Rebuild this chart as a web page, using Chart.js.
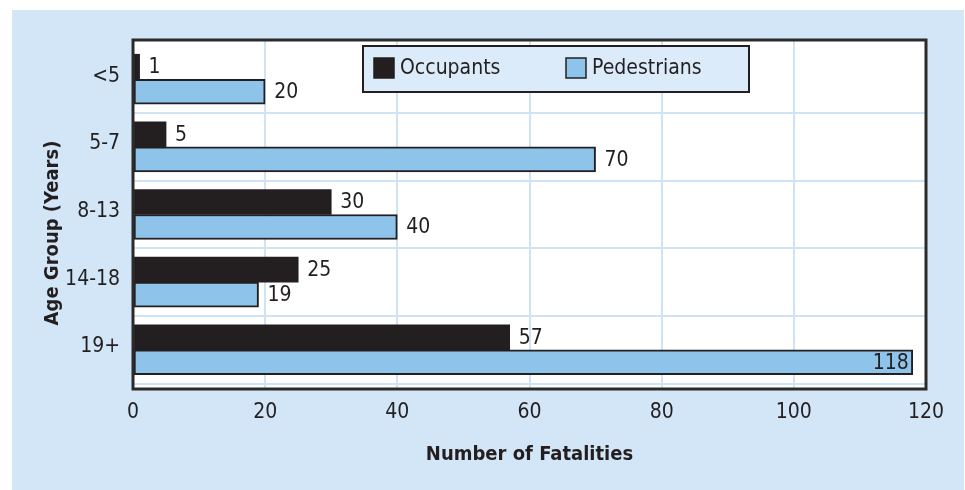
<!DOCTYPE html>
<html>
<head>
<meta charset="utf-8">
<script src="https://cdn.jsdelivr.net/npm/chart.js@4.4.0/dist/chart.umd.min.js"></script>
<style>
  html, body { margin: 0; padding: 0; background: #fff; }
  #wrap { width: 965px; height: 490px; }
</style>
</head>
<body>
<div id="wrap"><canvas id="grafico"></canvas></div>
<script>
// datos
const ageGroups = ["<5", "5-7", "8-13", "14-18", "19+"];
const occupants = [1, 5, 30, 25, 57];
const pedestrians = [20, 70, 40, 19, 118];
const xTicks = [0, 20, 40, 60, 80, 100, 120];

const FONT = "'DejaVu Sans Condensed', 'Liberation Sans Narrow', sans-serif";
const DARK = "#231f20";
const BLUE = "#8ec3ea";
const PANEL = "#d2e6f7";
const GRID = "#cfe3f5";

Chart.defaults.font.family = FONT;
Chart.defaults.color = DARK;

// fondo celeste + area blanca
const fondo = {
  id: "fondo",
  beforeDraw(chart) {
    const ctx = chart.ctx, a = chart.chartArea;
    ctx.save();
    ctx.fillStyle = "#fff";
    ctx.fillRect(0, 0, chart.width, chart.height);
    ctx.fillStyle = PANEL;
    ctx.fillRect(12, 10, chart.width - 13, chart.height - 10);
    ctx.fillStyle = "#fff";
    ctx.fillRect(a.left, a.top, a.right - a.left, a.bottom - a.top);
    ctx.restore();
  }
};

// borde del grafico y numeros en las barras
const etiquetas = {
  id: "etiquetas",
  afterDatasetsDraw(chart) {
    const ctx = chart.ctx, a = chart.chartArea;
    ctx.save();
    ctx.font = "21px " + FONT;
    ctx.fillStyle = DARK;
    ctx.textBaseline = "middle";
    chart.data.datasets.forEach((ds, d) => {
      chart.getDatasetMeta(d).data.forEach((bar, i) => {
        const txt = String(ds.data[i].x);
        const w = ctx.measureText(txt).width;
        if (bar.x + 9 + w > a.right) {
          ctx.textAlign = "right";
          ctx.fillText(txt, bar.x - 4, bar.y + 1);
        } else {
          ctx.textAlign = "left";
          ctx.fillText(txt, bar.x + 9, bar.y + 1);
        }
      });
    });
    ctx.strokeStyle = "#2b2b2b";
    ctx.lineWidth = 3;
    ctx.strokeRect(a.left, a.top, a.right - a.left, a.bottom - a.top);
    ctx.restore();
  }
};

// leyenda dentro del grafico y titulo del eje Y
const leyenda = {
  id: "leyenda",
  afterDraw(chart) {
    const ctx = chart.ctx;
    ctx.save();
    ctx.fillStyle = "#dcebf9";
    ctx.fillRect(363, 46, 386, 46);
    ctx.strokeStyle = DARK;
    ctx.lineWidth = 2;
    ctx.strokeRect(363, 46, 386, 46);

    const xs = [374, 566];
    ctx.font = "21px " + FONT;
    ctx.textBaseline = "middle";
    ctx.textAlign = "left";
    chart.data.datasets.forEach((ds, d) => {
      ctx.fillStyle = ds.backgroundColor;
      ctx.fillRect(xs[d], 58, 20, 20);
      ctx.strokeStyle = DARK;
      ctx.lineWidth = 1.5;
      ctx.strokeRect(xs[d], 58, 20, 20);
      ctx.fillStyle = DARK;
      ctx.fillText(ds.label, xs[d] + 26, 69);
    });

    ctx.translate(53, 233);
    ctx.rotate(-Math.PI / 2);
    ctx.font = "bold 20px " + FONT;
    ctx.textAlign = "center";
    ctx.fillText("Age Group (Years)", 0, 0);
    ctx.restore();
  }
};

const ctx = document.getElementById("grafico").getContext("2d");
new Chart(ctx, {
  type: "bar",
  data: {
    datasets: [
      {
        label: "Occupants",
        data: occupants.map((v, i) => ({ x: v, y: i })),
        backgroundColor: DARK,
        borderWidth: 0
      },
      {
        label: "Pedestrians",
        data: pedestrians.map((v, i) => ({ x: v, y: i })),
        backgroundColor: BLUE,
        borderColor: DARK,
        borderWidth: 2,
        borderSkipped: false
      }
    ]
  },
  options: {
    indexAxis: "y",
    responsive: true,
    maintainAspectRatio: false,
    animation: false,
    barThickness: 25,
    layout: { padding: { top: 40, right: 39, left: 0, bottom: 0 } },
    plugins: {
      legend: { display: false },
      tooltip: { enabled: false }
    },
    scales: {
      x: {
        type: "linear",
        min: 0,
        max: 120,
        afterBuildTicks: s => { s.ticks = xTicks.map(v => ({ value: v })); },
        afterFit: s => { s.height = 101; },
        grid: { color: GRID, lineWidth: 2, drawTicks: false },
        border: { display: false },
        ticks: { font: { size: 21 }, padding: 11 },
        title: {
          display: true,
          text: "Number of Fatalities",
          font: { size: 20, weight: "bold" },
          padding: { top: 0, bottom: 23 }
        }
      },
      y: {
        type: "linear",
        reverse: true,
        offset: false,
        min: -0.58,
        max: 4.58,
        afterBuildTicks: s => { s.ticks = ageGroups.map((g, i) => ({ value: i })); },
        afterFit: s => { s.width = 133; },
        grid: {
          offset: true,
          drawTicks: false,
          lineWidth: 2,
          color: c => (c.index === 0 || c.index >= ageGroups.length) ? "rgba(0,0,0,0)" : GRID
        },
        border: { display: false },
        ticks: {
          font: { size: 21 },
          padding: 13,
          labelOffset: -3,
          callback: v => ageGroups[v]
        }
      }
    }
  },
  plugins: [fondo, etiquetas, leyenda]
});
</script>
</body>
</html>
